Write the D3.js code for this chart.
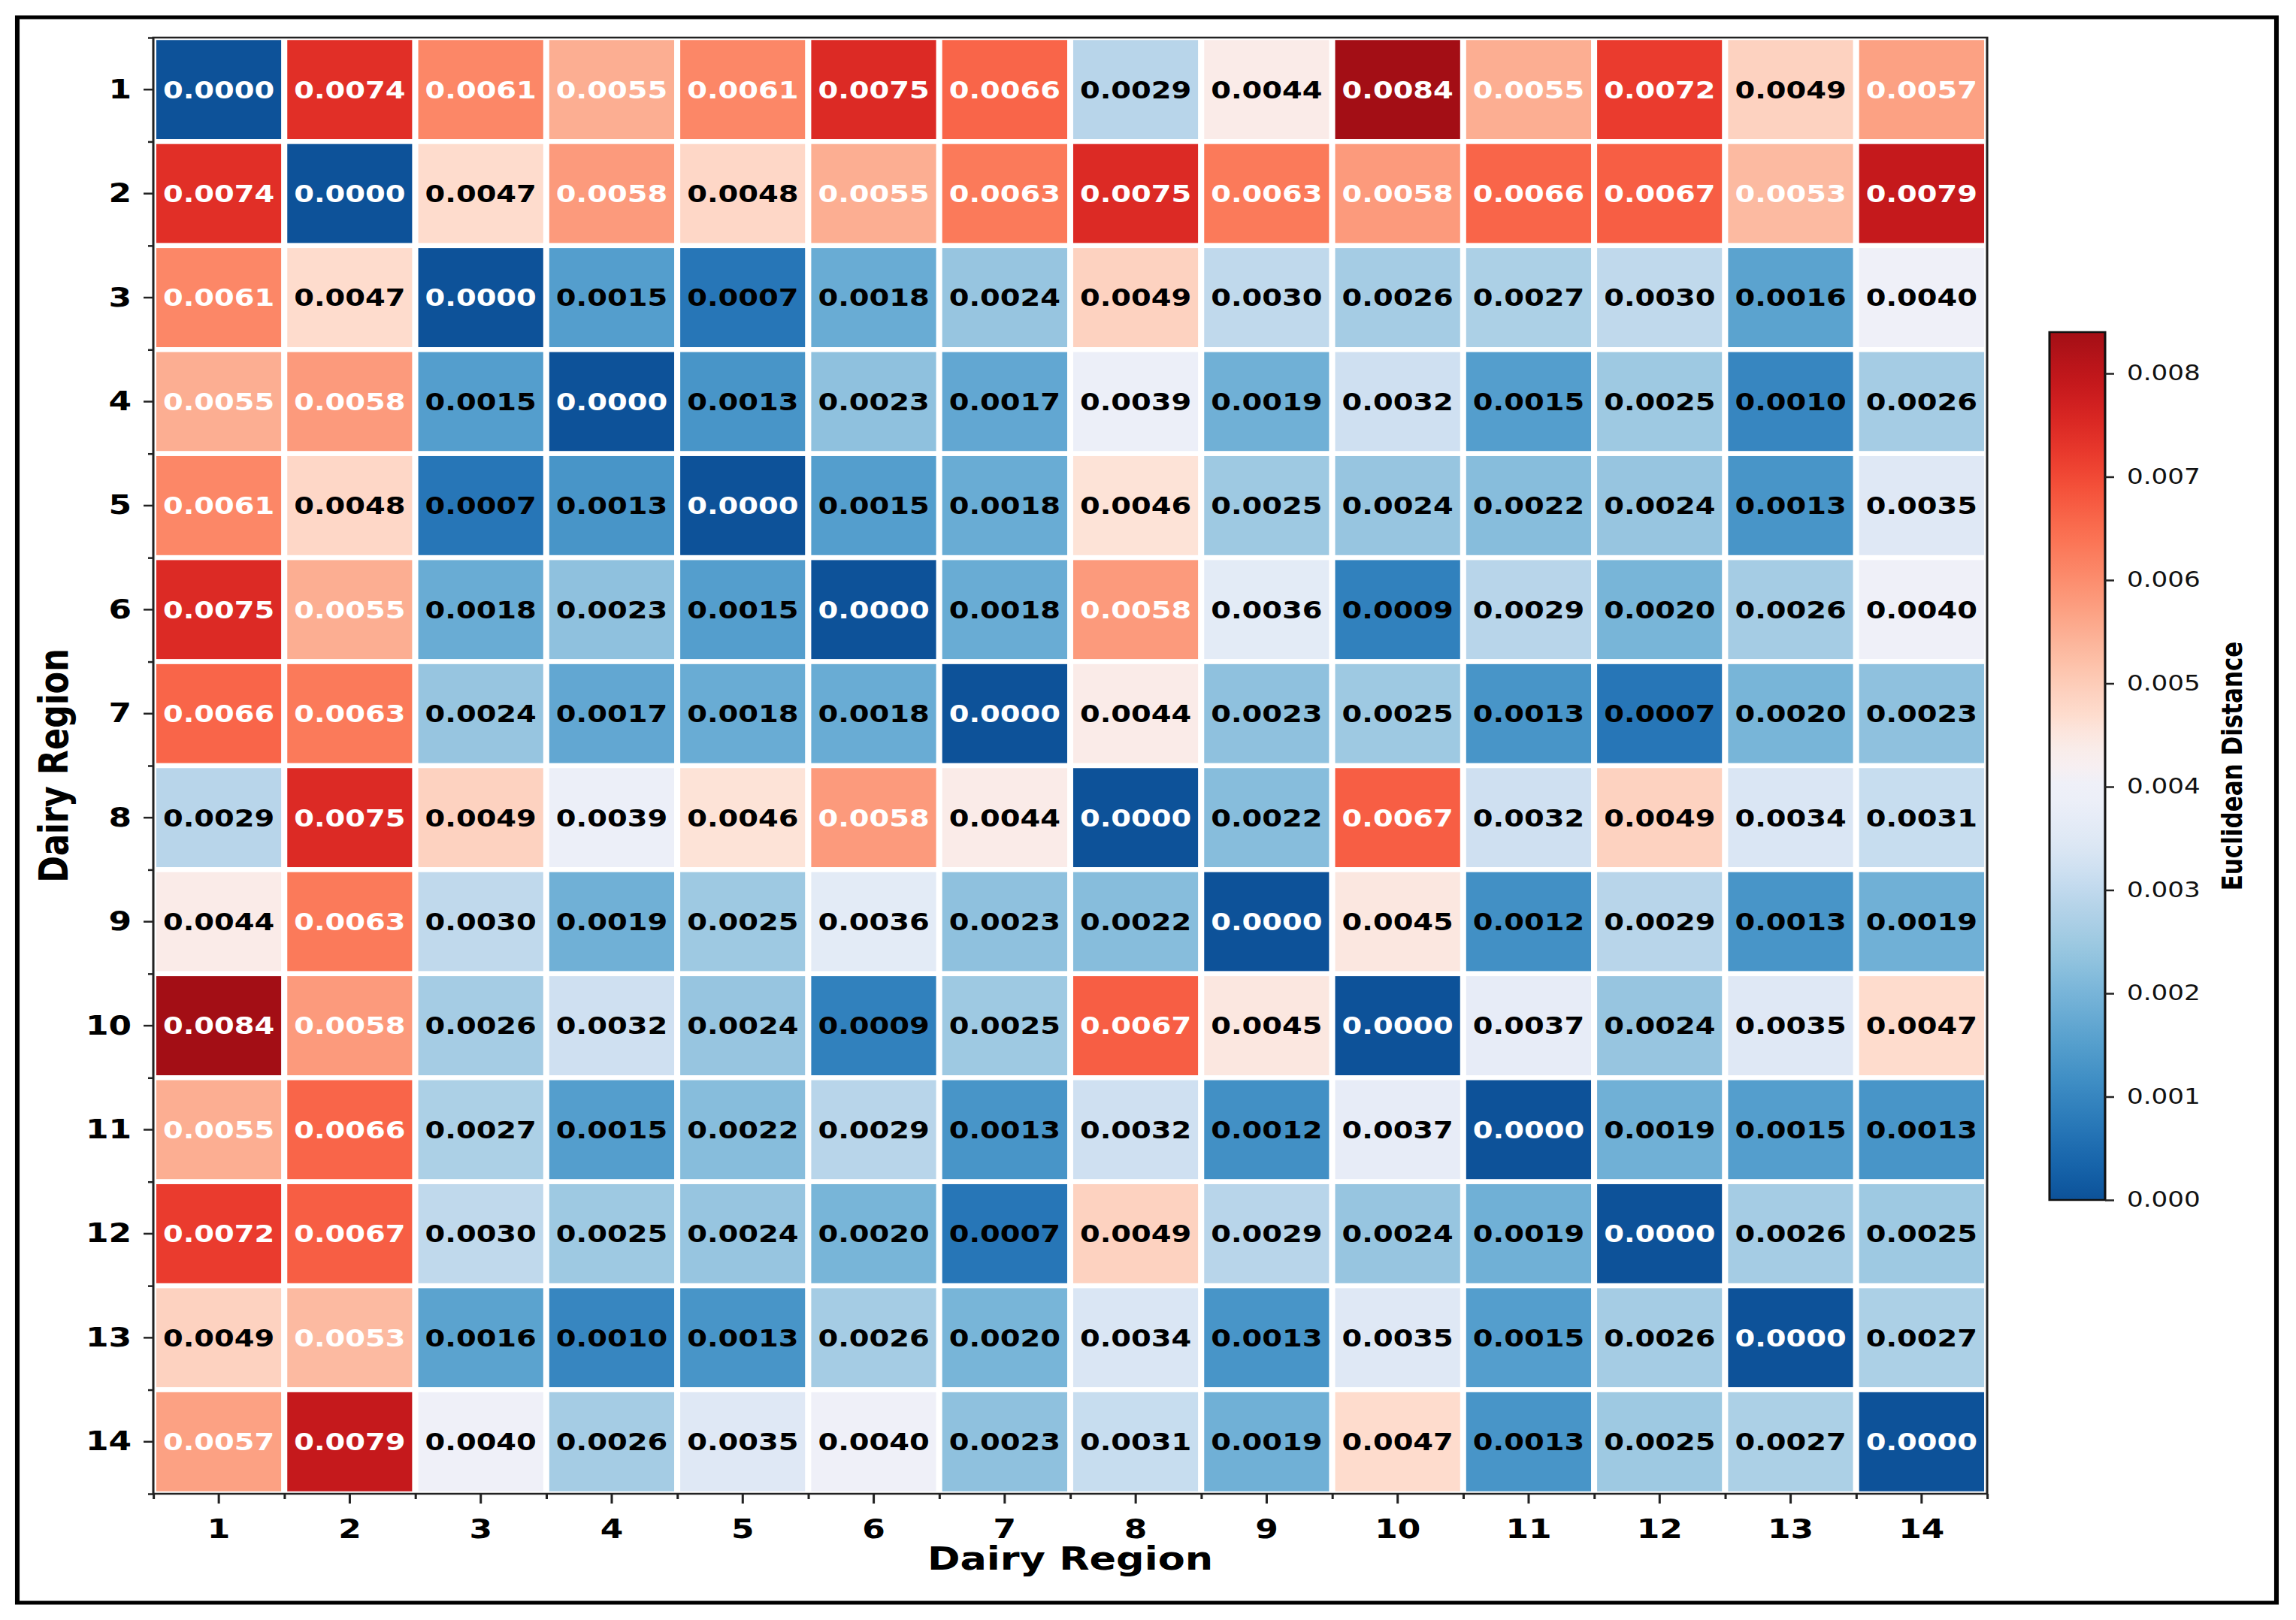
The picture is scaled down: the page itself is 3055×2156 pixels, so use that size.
<!DOCTYPE html>
<html lang="en">
<head>
	<meta charset="UTF-8">
	<title>Dairy region distances</title>
	<script src="https://d3js.org/d3.v7.min.js"></script>
	<style>
		body { margin: 0; background: #fff; }
		svg { display: block; }
	</style>
</head>
<body>
	<script type="text/javascript">
		// region names, same on both axes
		var regions = ["1","2","3","4","5","6","7","8","9","10","11","12","13","14"];

		// euclidean distance between regions, one row per region
		var distances = [
			[0.0000,0.0074,0.0061,0.0055,0.0061,0.0075,0.0066,0.0029,0.0044,0.0084,0.0055,0.0072,0.0049,0.0057],
			[0.0074,0.0000,0.0047,0.0058,0.0048,0.0055,0.0063,0.0075,0.0063,0.0058,0.0066,0.0067,0.0053,0.0079],
			[0.0061,0.0047,0.0000,0.0015,0.0007,0.0018,0.0024,0.0049,0.0030,0.0026,0.0027,0.0030,0.0016,0.0040],
			[0.0055,0.0058,0.0015,0.0000,0.0013,0.0023,0.0017,0.0039,0.0019,0.0032,0.0015,0.0025,0.0010,0.0026],
			[0.0061,0.0048,0.0007,0.0013,0.0000,0.0015,0.0018,0.0046,0.0025,0.0024,0.0022,0.0024,0.0013,0.0035],
			[0.0075,0.0055,0.0018,0.0023,0.0015,0.0000,0.0018,0.0058,0.0036,0.0009,0.0029,0.0020,0.0026,0.0040],
			[0.0066,0.0063,0.0024,0.0017,0.0018,0.0018,0.0000,0.0044,0.0023,0.0025,0.0013,0.0007,0.0020,0.0023],
			[0.0029,0.0075,0.0049,0.0039,0.0046,0.0058,0.0044,0.0000,0.0022,0.0067,0.0032,0.0049,0.0034,0.0031],
			[0.0044,0.0063,0.0030,0.0019,0.0025,0.0036,0.0023,0.0022,0.0000,0.0045,0.0012,0.0029,0.0013,0.0019],
			[0.0084,0.0058,0.0026,0.0032,0.0024,0.0009,0.0025,0.0067,0.0045,0.0000,0.0037,0.0024,0.0035,0.0047],
			[0.0055,0.0066,0.0027,0.0015,0.0022,0.0029,0.0013,0.0032,0.0012,0.0037,0.0000,0.0019,0.0015,0.0013],
			[0.0072,0.0067,0.0030,0.0025,0.0024,0.0020,0.0007,0.0049,0.0029,0.0024,0.0019,0.0000,0.0026,0.0025],
			[0.0049,0.0053,0.0016,0.0010,0.0013,0.0026,0.0020,0.0034,0.0013,0.0035,0.0015,0.0026,0.0000,0.0027],
			[0.0057,0.0079,0.0040,0.0026,0.0035,0.0040,0.0023,0.0031,0.0019,0.0047,0.0013,0.0025,0.0027,0.0000]
		];

		var colorbarTicks = [0, 0.001, 0.002, 0.003, 0.004, 0.005, 0.006, 0.007, 0.008];

		var xTitle = "Dairy Region";
		var yTitle = "Dairy Region";
		var colorbarTitle = "Euclidean Distance";

		var W = 3055, H = 2156;
		// the figure is stretched sideways, so draw everything in a squeezed frame
		var SX = 1.22;
		function ux(px) { return px / SX; }

		var font = "DejaVu Sans";

		var svg = d3.select("body").append("svg").attr("width", W).attr("height", H);
		var g = svg.append("g").attr("transform", "scale(" + SX + ",1)");

		// outer frame
		g.append("rect")
			.attr("x", ux(23)).attr("y", 23)
			.attr("width", ux(3029 - 23)).attr("height", 2133 - 23)
			.attr("fill", "none").attr("stroke", "#000").attr("stroke-width", 5);

		// plot area in page pixels
		var hmLeft = 204, hmRight = 2644, hmTop = 50, hmBottom = 1988;
		var xScale = d3.scaleBand().domain(regions).range([ux(hmLeft), ux(hmRight)]);
		var yScale = d3.scaleBand().domain(regions).range([hmTop, hmBottom]);

		// blues below the middle, reds above, a lavender white in between
		var vmax = d3.max(distances, function(r){ return d3.max(r); });
		var centre = "#f2eff7";
		var color = d3.scaleDiverging()
			.domain([0, vmax / 2, vmax])
			.interpolator(function(t){
				var u = Math.abs(2 * t - 1);
				var base, w;
				if (t < 0.5) {
					base = d3.interpolateBlues(0.03 + 0.84 * u);
					w = Math.max(0, 1 - u / 0.3) * 0.75;
				} else {
					base = d3.interpolateReds(0.03 + 0.84 * u);
					w = Math.max(0, 1 - u / 0.12) * 0.6;
				}
				return d3.interpolateRgb(base, centre)(w);
			});

		var cells = [];
		distances.forEach(function(row, i){
			row.forEach(function(v, j){
				cells.push({row: regions[i], col: regions[j], value: v});
			});
		});

		//cells
		g.append("g").selectAll("rect")
			.data(cells)
			.enter()
			.append("rect")
			.attr("x", function(d){ return xScale(d.col); })
			.attr("y", function(d){ return yScale(d.row); })
			.attr("width", xScale.bandwidth())
			.attr("height", yScale.bandwidth())
			.attr("fill", function(d){ return color(d.value); })
			.attr("stroke", "#fff")
			.attr("stroke-width", 6.5);

		//cell labels
		g.append("g").selectAll("text")
			.data(cells)
			.enter()
			.append("text")
			.text(function(d){ return d.value.toFixed(4); })
			.attr("x", function(d){ return xScale(d.col) + xScale.bandwidth() / 2; })
			.attr("y", function(d){ return yScale(d.row) + yScale.bandwidth() / 2; })
			.attr("dy", "0.36em")
			.attr("text-anchor", "middle")
			.attr("font-family", font)
			.attr("font-weight", "bold")
			.attr("font-size", "31.5px")
			.attr("fill", function(d){ return (d.value === 0 || d.value >= 0.005) ? "#fff" : "#000"; });

		// spine around the heatmap
		g.append("rect")
			.attr("x", ux(hmLeft)).attr("y", hmTop)
			.attr("width", ux(hmRight - hmLeft)).attr("height", hmBottom - hmTop)
			.attr("fill", "none").attr("stroke", "#222").attr("stroke-width", 2.5);

		// axes: major ticks at centres, small ticks at cell edges
		var edges = d3.scaleLinear().domain([0, regions.length]);

		var yAxis = g.append("g")
			.attr("transform", "translate(" + ux(hmLeft) + ",0)")
			.call(d3.axisLeft(yScale).tickSize(ux(13)).tickPadding(ux(16)));
		g.append("g")
			.attr("transform", "translate(" + ux(hmLeft) + ",0)")
			.call(d3.axisLeft(edges.copy().range([hmTop, hmBottom])).tickValues(d3.range(regions.length + 1)).tickSize(ux(7)).tickFormat(""));

		var xAxis = g.append("g")
			.attr("transform", "translate(0," + hmBottom + ")")
			.call(d3.axisBottom(xScale).tickSize(13).tickPadding(20));
		g.append("g")
			.attr("transform", "translate(0," + hmBottom + ")")
			.call(d3.axisBottom(edges.copy().range([ux(hmLeft), ux(hmRight)])).tickValues(d3.range(regions.length + 1)).tickSize(7).tickFormat(""));

		g.selectAll(".domain").remove();
		g.selectAll(".tick line").attr("stroke", "#222").attr("stroke-width", 2.5);
		[yAxis, xAxis].forEach(function(a){
			a.selectAll("text")
				.attr("font-family", font)
				.attr("font-weight", "bold")
				.attr("font-size", "36px")
				.attr("fill", "#000");
		});

		// axis titles
		g.append("text")
			.text(xTitle)
			.attr("x", ux((hmLeft + hmRight) / 2))
			.attr("y", 2089)
			.attr("text-anchor", "middle")
			.attr("font-family", font)
			.attr("font-weight", "bold")
			.attr("font-size", "43px");

		g.append("text")
			.text(yTitle)
			.attr("transform", "translate(" + (ux(70) + 16) + "," + ((hmTop + hmBottom) / 2) + ") rotate(-90)")
			.attr("text-anchor", "middle")
			.attr("font-family", font)
			.attr("font-weight", "bold")
			.attr("font-size", "43px");

		// colorbar
		var cbLeft = 2727, cbRight = 2801;
		var cbScale = d3.scaleLinear().domain([0, vmax]).range([1597, 442]);

		var grad = svg.append("defs").append("linearGradient")
			.attr("id", "cbGrad")
			.attr("x1", 0).attr("y1", 1).attr("x2", 0).attr("y2", 0);
		grad.selectAll("stop")
			.data(d3.range(0, 1.0001, 0.02))
			.enter()
			.append("stop")
			.attr("offset", function(d){ return d; })
			.attr("stop-color", function(d){ return color(d * vmax); });

		g.append("rect")
			.attr("x", ux(cbLeft)).attr("y", cbScale(vmax))
			.attr("width", ux(cbRight - cbLeft)).attr("height", cbScale(0) - cbScale(vmax))
			.attr("fill", "url(#cbGrad)")
			.attr("stroke", "#111").attr("stroke-width", 2.5);

		var cbAxis = g.append("g")
			.attr("transform", "translate(" + ux(cbRight) + ",0)")
			.call(d3.axisRight(cbScale).tickValues(colorbarTicks).tickFormat(d3.format(".3f")).tickSize(ux(12)).tickPadding(ux(17)));
		cbAxis.select(".domain").remove();
		cbAxis.selectAll(".tick line").attr("stroke", "#222").attr("stroke-width", 2.5);
		cbAxis.selectAll("text")
			.attr("font-family", font)
			.attr("font-size", "28px")
			.attr("fill", "#111");

		g.append("text")
			.text(colorbarTitle)
			.attr("transform", "translate(" + (ux(2970) + 11) + "," + ((442 + 1597) / 2) + ") rotate(-90)")
			.attr("text-anchor", "middle")
			.attr("font-family", font)
			.attr("font-weight", "bold")
			.attr("font-size", "31px");
	</script>
</body>
</html>
